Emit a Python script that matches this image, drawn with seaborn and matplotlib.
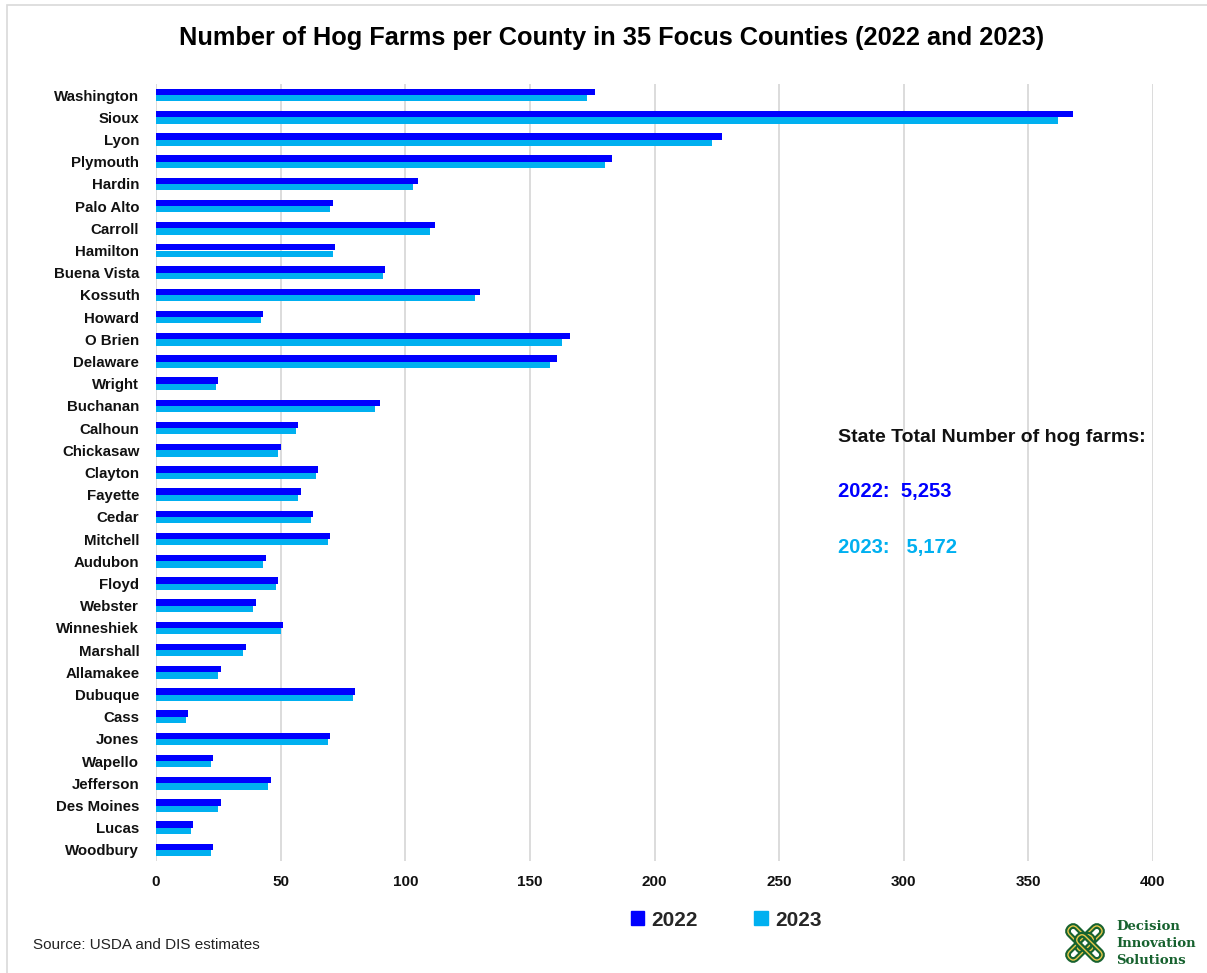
import matplotlib
matplotlib.use("Agg")
import matplotlib.pyplot as plt
import matplotlib.patches as mpatches
from matplotlib import font_manager
from matplotlib.transforms import Affine2D
import seaborn as sns
import pandas as pd

counties = ["Washington", "Sioux", "Lyon", "Plymouth", "Hardin", "Palo Alto", "Carroll",
            "Hamilton", "Buena Vista", "Kossuth", "Howard", "O Brien", "Delaware", "Wright",
            "Buchanan", "Calhoun", "Chickasaw", "Clayton", "Fayette", "Cedar", "Mitchell",
            "Audubon", "Floyd", "Webster", "Winneshiek", "Marshall", "Allamakee", "Dubuque",
            "Cass", "Jones", "Wapello", "Jefferson", "Des Moines", "Lucas", "Woodbury"]
farms_2022 = [176, 368, 227, 183, 105, 71, 112, 72, 92, 130, 43, 166, 161, 25, 90, 57, 50, 65,
              58, 63, 70, 44, 49, 40, 51, 36, 26, 80, 13, 70, 23, 46, 26, 15, 23]
farms_2023 = [173, 362, 223, 180, 103, 70, 110, 71, 91, 128, 42, 163, 158, 24, 88, 56, 49, 64,
              57, 62, 69, 43, 48, 39, 50, 35, 25, 79, 12, 69, 22, 45, 25, 14, 22]
years = ["2022", "2023"]
colors = {"2022": "#0000FF", "2023": "#00B0F0"}
x_ticks = [0, 50, 100, 150, 200, 250, 300, 350, 400]
state_totals = {"2022": "5,253", "2023": "5,172"}

df = pd.DataFrame({
    "County": counties * 2,
    "Year": ["2022"] * len(counties) + ["2023"] * len(counties),
    "Farms": farms_2022 + farms_2023,
})

sns.set_style("white")
plt.rcParams["font.family"] = ["Liberation Sans", "DejaVu Sans"]

W, H = 1207, 973
fig = plt.figure(figsize=(W / 100, H / 100), dpi=100)
ax = fig.add_axes([156 / W, 1 - 861 / H, (1153 - 156) / W, (861 - 84) / H])

sns.barplot(data=df, y="County", x="Farms", hue="Year", order=counties, hue_order=years,
            palette=colors, orient="h", width=0.56, saturation=1, ax=ax, legend=False,
            errorbar=None, linewidth=0, edgecolor="none")

ax.set_xlim(0, 400)
ax.set_ylim(len(counties) - 0.5, -0.5)
ax.set_xticks(x_ticks)
ax.set_xticklabels([str(t) for t in x_ticks])
ax.grid(axis="x", color="#D9D9D9", linewidth=1.3)
ax.grid(axis="y", visible=False)
ax.set_axisbelow(True)
for s in ax.spines.values():
    s.set_visible(False)
ax.set_xlabel("")
ax.set_ylabel("")
ax.tick_params(axis="both", length=0)
ax.tick_params(axis="y", pad=12, labelsize=10.8)
ax.tick_params(axis="x", pad=10, labelsize=11)
for lab in ax.get_yticklabels() + ax.get_xticklabels():
    lab.set_fontweight("bold")
    lab.set_color("#111111")

# Title (condensed bold if available)
avail = {f.name for f in font_manager.fontManager.ttflist}
title_family = "Liberation Sans Narrow" if "Liberation Sans Narrow" in avail else "Liberation Sans"
title = fig.text(612 / W, 1 - 38 / H, "Number of Hog Farms per County in 35 Focus Counties (2022 and 2023)",
                 ha="center", va="center", fontsize=20, fontweight="bold",
                 family=[title_family, "DejaVu Sans"], color="#000000")
fig.canvas.draw()
tw = title.get_window_extent().width
title.set_fontsize(20 * 868 / tw)

# State totals annotation
fig.text(838 / W, 1 - 437 / H, "State Total Number of hog farms:", ha="left", va="center",
         fontsize=14, fontweight="bold", color="#111111")
fig.text(838 / W, 1 - 492 / H, "2022:  " + state_totals["2022"], ha="left", va="center",
         fontsize=14.5, fontweight="bold", color=colors["2022"])
fig.text(838 / W, 1 - 548 / H, "2023:   " + state_totals["2023"], ha="left", va="center",
         fontsize=14.5, fontweight="bold", color=colors["2023"])

# Legend
handles = [mpatches.Patch(color=colors[y], label=y) for y in years]
leg = fig.legend(handles=handles, loc="center", bbox_to_anchor=(726 / W, 1 - 920 / H), ncol=2,
                 frameon=False, fontsize=15, handlelength=0.65, handleheight=0.65,
                 handletextpad=0.35, columnspacing=2.7, borderpad=0)
for t in leg.get_texts():
    t.set_fontweight("bold")

# Source
fig.text(33 / W, 1 - 945 / H, "Source: USDA and DIS estimates", ha="left", va="center",
         fontsize=11, color="#222222")

# Logo
green = "#17622F"
gold = "#E8C84A"
lax = fig.add_axes([1060 / W, 1 - 970 / H, 50 / W, 54 / H])
lax.set_xlim(-1, 1)
lax.set_ylim(-1.08, 1.08)
lax.set_aspect("equal")
lax.axis("off")
for ang, (cx, cy) in [(45, (0.32, 0.32)), (45, (-0.32, -0.32)),
                      (-45, (-0.32, 0.32)), (-45, (0.32, -0.32))]:
    for ec, lw in ((green, 4.0), (gold, 1.0)):
        box = mpatches.FancyBboxPatch((-0.62, -0.2), 1.24, 0.4,
                                      boxstyle="round,pad=0,rounding_size=0.2",
                                      facecolor="none", edgecolor=ec, linewidth=lw)
        box.set_transform(Affine2D().rotate_deg(ang).translate(cx * 0.55, cy * 0.55) + lax.transData)
        lax.add_patch(box)
for i, word in enumerate(["Decision", "Innovation", "Solutions"]):
    fig.text(1116 / W, 1 - (926 + 17.5 * i) / H, word, ha="left", va="center", fontsize=9.5,
             fontweight="bold", family=["DejaVu Serif"], color=green)

# Border
fig.add_artist(mpatches.Rectangle((7 / W, -0.01), 1.05, 1 - 5 / H + 0.01, transform=fig.transFigure,
                                  facecolor="none", edgecolor="#D9D9D9", linewidth=1.2))

fig.savefig("out.png", dpi=100)
